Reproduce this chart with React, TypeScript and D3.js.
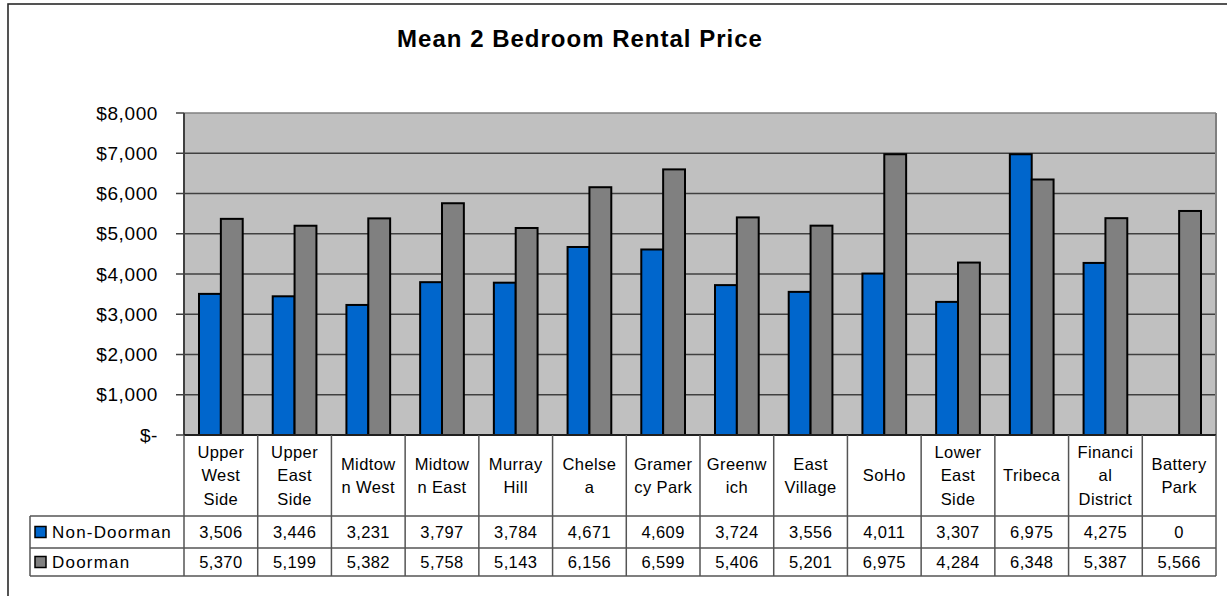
import React from "react";
import * as d3 from "d3";

const categories = [
  "Upper West Side", "Upper East Side", "Midtown West", "Midtown East", "Murray Hill",
  "Chelsea", "Gramercy Park", "Greenwich", "East Village", "SoHo",
  "Lower East Side", "Tribeca", "Financial District", "Battery Park",
];
const categoryLabels = [
  "Upper\nWest\nSide", "Upper\nEast\nSide", "Midtow\nn West", "Midtow\nn East", "Murray\nHill",
  "Chelse\na", "Gramer\ncy Park", "Greenw\nich", "East\nVillage", "SoHo",
  "Lower\nEast\nSide", "Tribeca", "Financi\nal\nDistrict", "Battery\nPark",
];
const seriesNames = ["Non-Doorman", "Doorman"];
const nonDoorman = [3506, 3446, 3231, 3797, 3784, 4671, 4609, 3724, 3556, 4011, 3307, 6975, 4275, 0];
const doorman = [5370, 5199, 5382, 5758, 5143, 6156, 6599, 5406, 5201, 6975, 4284, 6348, 5387, 5566];
const seriesColors = ["#0066CC", "#808080"];
const yTicks = [0, 1000, 2000, 3000, 4000, 5000, 6000, 7000, 8000];
const title = "Mean 2 Bedroom Rental Price";

const W = 1227;
const H = 596;
const plotL = 184, plotR = 1216, plotT = 113, plotB = 435;
const headerB = 516, row1B = 548, row2B = 576;
const legendL = 30;
const FONT = "Arial, 'Liberation Sans', sans-serif";

export default function App() {
  const x0 = d3.scaleBand<string>().domain(categories).range([plotL, plotR]).paddingInner(0).paddingOuter(0);
  const bw = x0.bandwidth();
  const x1 = d3.scaleBand<string>().domain(seriesNames).range([15, bw - 15]).padding(0);
  const y = d3.scaleLinear().domain([0, 8000]).range([plotB, plotT]);
  const fmt = d3.format(",");
  const seriesValues = [nonDoorman, doorman];
  const rowCenters = [(headerB + row1B) / 2, (row1B + row2B) / 2];
  const rowBounds = [headerB, row1B, row2B];

  return (
    <svg width={W} height={H} style={{ position: "absolute", left: 0, top: 0, background: "#fff" }} fontFamily={FONT}>
      {/* chart border */}
      <rect x={8} y={4} width={W + 10} height={H + 10} fill="#fff" stroke="#2a2a2a" strokeWidth={1.6} />
      {/* title */}
      <text x={580} y={47} textAnchor="middle" fontSize={24} fontWeight="bold" letterSpacing={1} fill="#000">{title}</text>

      {/* plot background */}
      <rect x={plotL} y={plotT} width={plotR - plotL} height={plotB - plotT} fill="#C0C0C0" />
      {/* gridlines */}
      {yTicks.filter(t => t > 0 && t < 8000).map(t => (
        <line key={t} x1={plotL} x2={plotR} y1={y(t)} y2={y(t)} stroke="#404040" strokeWidth={1.5} />
      ))}
      <line x1={plotL} x2={plotR} y1={plotT} y2={plotT} stroke="#808080" strokeWidth={1.5} />
      <line x1={plotR} x2={plotR} y1={plotT} y2={plotB} stroke="#808080" strokeWidth={2} />

      {/* bars */}
      {categories.map((c, i) => (
        <g key={c}>
          {seriesNames.map((s, si) => {
            const v = seriesValues[si][i];
            if (v <= 0) return null;
            return (
              <rect key={s} x={(x0(c) as number) + (x1(s) as number)} y={y(v)} width={x1.bandwidth()} height={y(0) - y(v)}
                fill={seriesColors[si]} stroke="#000" strokeWidth={2} />
            );
          })}
        </g>
      ))}

      {/* y axis */}
      <line x1={plotL} x2={plotL} y1={plotT} y2={plotB} stroke="#404040" strokeWidth={2} />
      {yTicks.map(t => (
        <g key={t}>
          <line x1={176} x2={plotL} y1={y(t)} y2={y(t)} stroke="#404040" strokeWidth={1.5} />
          <text x={158} y={y(t)} dy="0.35em" textAnchor="end" fontSize={19} letterSpacing={0.6} fill="#000">
            {t === 0 ? "$-" : "$" + fmt(t)}
          </text>
        </g>
      ))}
      <line x1={plotL} x2={plotR} y1={plotB} y2={plotB} stroke="#202020" strokeWidth={2} />

      {/* data table */}
      {categories.map((c, i) => {
        const lines = categoryLabels[i].split("\n");
        const cx = (x0(c) as number) + bw / 2;
        const cy = (plotB + headerB) / 2;
        const lh = 23.5;
        return (
          <g key={c}>
            {lines.map((ln, li) => (
              <text key={li} x={cx} y={cy + (li - (lines.length - 1) / 2) * lh} dy="0.36em" textAnchor="middle"
                fontSize={16.5} letterSpacing={0.4} fill="#000">{ln}</text>
            ))}
            {seriesValues.map((vals, si) => (
              <text key={si} x={cx} y={rowCenters[si]} dy="0.36em" textAnchor="middle" fontSize={16.5} letterSpacing={0.4} fill="#000">
                {fmt(vals[i])}
              </text>
            ))}
          </g>
        );
      })}
      {/* table grid */}
      {d3.range(categories.length + 1).map(k => {
        const xx = plotL + k * bw;
        return <line key={k} x1={xx} x2={xx} y1={plotB} y2={row2B} stroke="#555" strokeWidth={1.5} />;
      })}
      {rowBounds.map((yy, k) => (
        <line key={k} x1={legendL} x2={plotR} y1={yy} y2={yy} stroke="#555" strokeWidth={1.5} />
      ))}
      <line x1={legendL} x2={legendL} y1={headerB} y2={row2B} stroke="#555" strokeWidth={1.5} />

      {/* legend keys */}
      {seriesNames.map((s, si) => (
        <g key={s}>
          <rect x={35} y={rowCenters[si] - 5.5} width={11} height={11} fill={seriesColors[si]} stroke="#000" strokeWidth={1.5} />
          <text x={52} y={rowCenters[si]} dy="0.36em" fontSize={17} letterSpacing={1.2} fill="#000">{s}</text>
        </g>
      ))}
    </svg>
  );
}
